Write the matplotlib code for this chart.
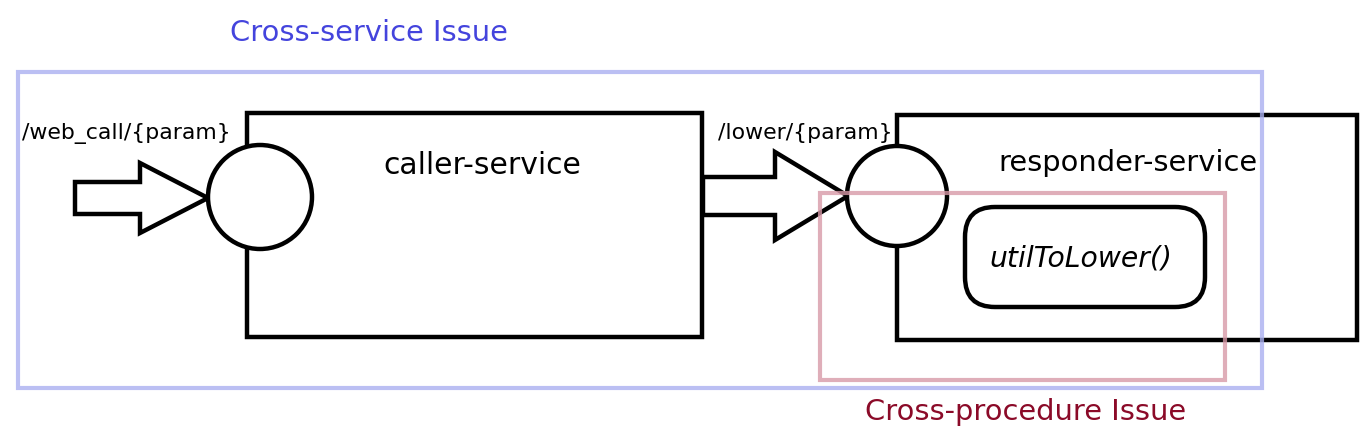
import matplotlib.pyplot as plt
from matplotlib.patches import Rectangle, Circle, FancyBboxPatch, Polygon

# diagram labels
region_labels = ["Cross-service Issue", "Cross-procedure Issue"]
service_labels = ["caller-service", "responder-service"]
endpoint_labels = ["/web_call/{param}", "/lower/{param}"]
function_label = "utilToLower()"

fig = plt.figure(figsize=(13.71, 4.47), dpi=100)
ax = fig.add_axes([0, 0, 1, 1])
ax.set_xlim(0, 1371)
ax.set_ylim(447, 0)
ax.axis('off')

lw = 3.2

# service boxes
ax.add_patch(Rectangle((247, 113), 455, 224, fill=False, ec='black', lw=lw, zorder=2))
ax.add_patch(Rectangle((897, 115), 460, 225, fill=False, ec='black', lw=lw, zorder=2))

# block arrows
def block_arrow(x0, x1, xh, sy0, sy1, hy0, hy1):
    cy = (hy0 + hy1) / 2
    pts = [(x0, sy0), (xh, sy0), (xh, hy0), (x1, cy), (xh, hy1), (xh, sy1), (x0, sy1)]
    ax.add_patch(Polygon(pts, closed=True, fc='white', ec='black', lw=lw, zorder=3))

block_arrow(75, 208, 140, 182, 214, 163, 233)
block_arrow(703, 848, 775, 177, 215, 152, 240)

# endpoint circles
ax.add_patch(Circle((260, 197), 52, fc='white', ec='black', lw=lw, zorder=4))
ax.add_patch(Circle((897, 196), 50, fc='white', ec='black', lw=lw, zorder=4))

# function box
ax.add_patch(FancyBboxPatch((980, 222), 210, 70, boxstyle='round,pad=15,rounding_size=30',
                            fc='white', ec='black', lw=lw, zorder=3))

# issue regions
ax.add_patch(Rectangle((18, 72), 1244, 316, fill=False, ec='#aab0f0', lw=3, alpha=0.8, zorder=5))
ax.add_patch(Rectangle((820, 193), 405, 187, fill=False, ec='#d89aa8', lw=3, alpha=0.8, zorder=5))

# text
ax.text(230, 33, region_labels[0], color='#4444dd', fontsize=20.8, va='center', ha='left')
ax.text(865, 412, region_labels[1], color='#8b0a28', fontsize=20.8, va='center', ha='left')
ax.text(482, 165, service_labels[0], fontsize=21.5, va='center', ha='center')
ax.text(1128, 163, service_labels[1], fontsize=20.8, va='center', ha='center')
ax.text(22, 133, endpoint_labels[0], fontsize=15.8, va='center', ha='left')
ax.text(718, 133, endpoint_labels[1], fontsize=15.8, va='center', ha='left')
ax.text(1081, 258, function_label, fontsize=20.3, style='italic', va='center', ha='center', zorder=6)

fig.savefig('out.png', dpi=100)
